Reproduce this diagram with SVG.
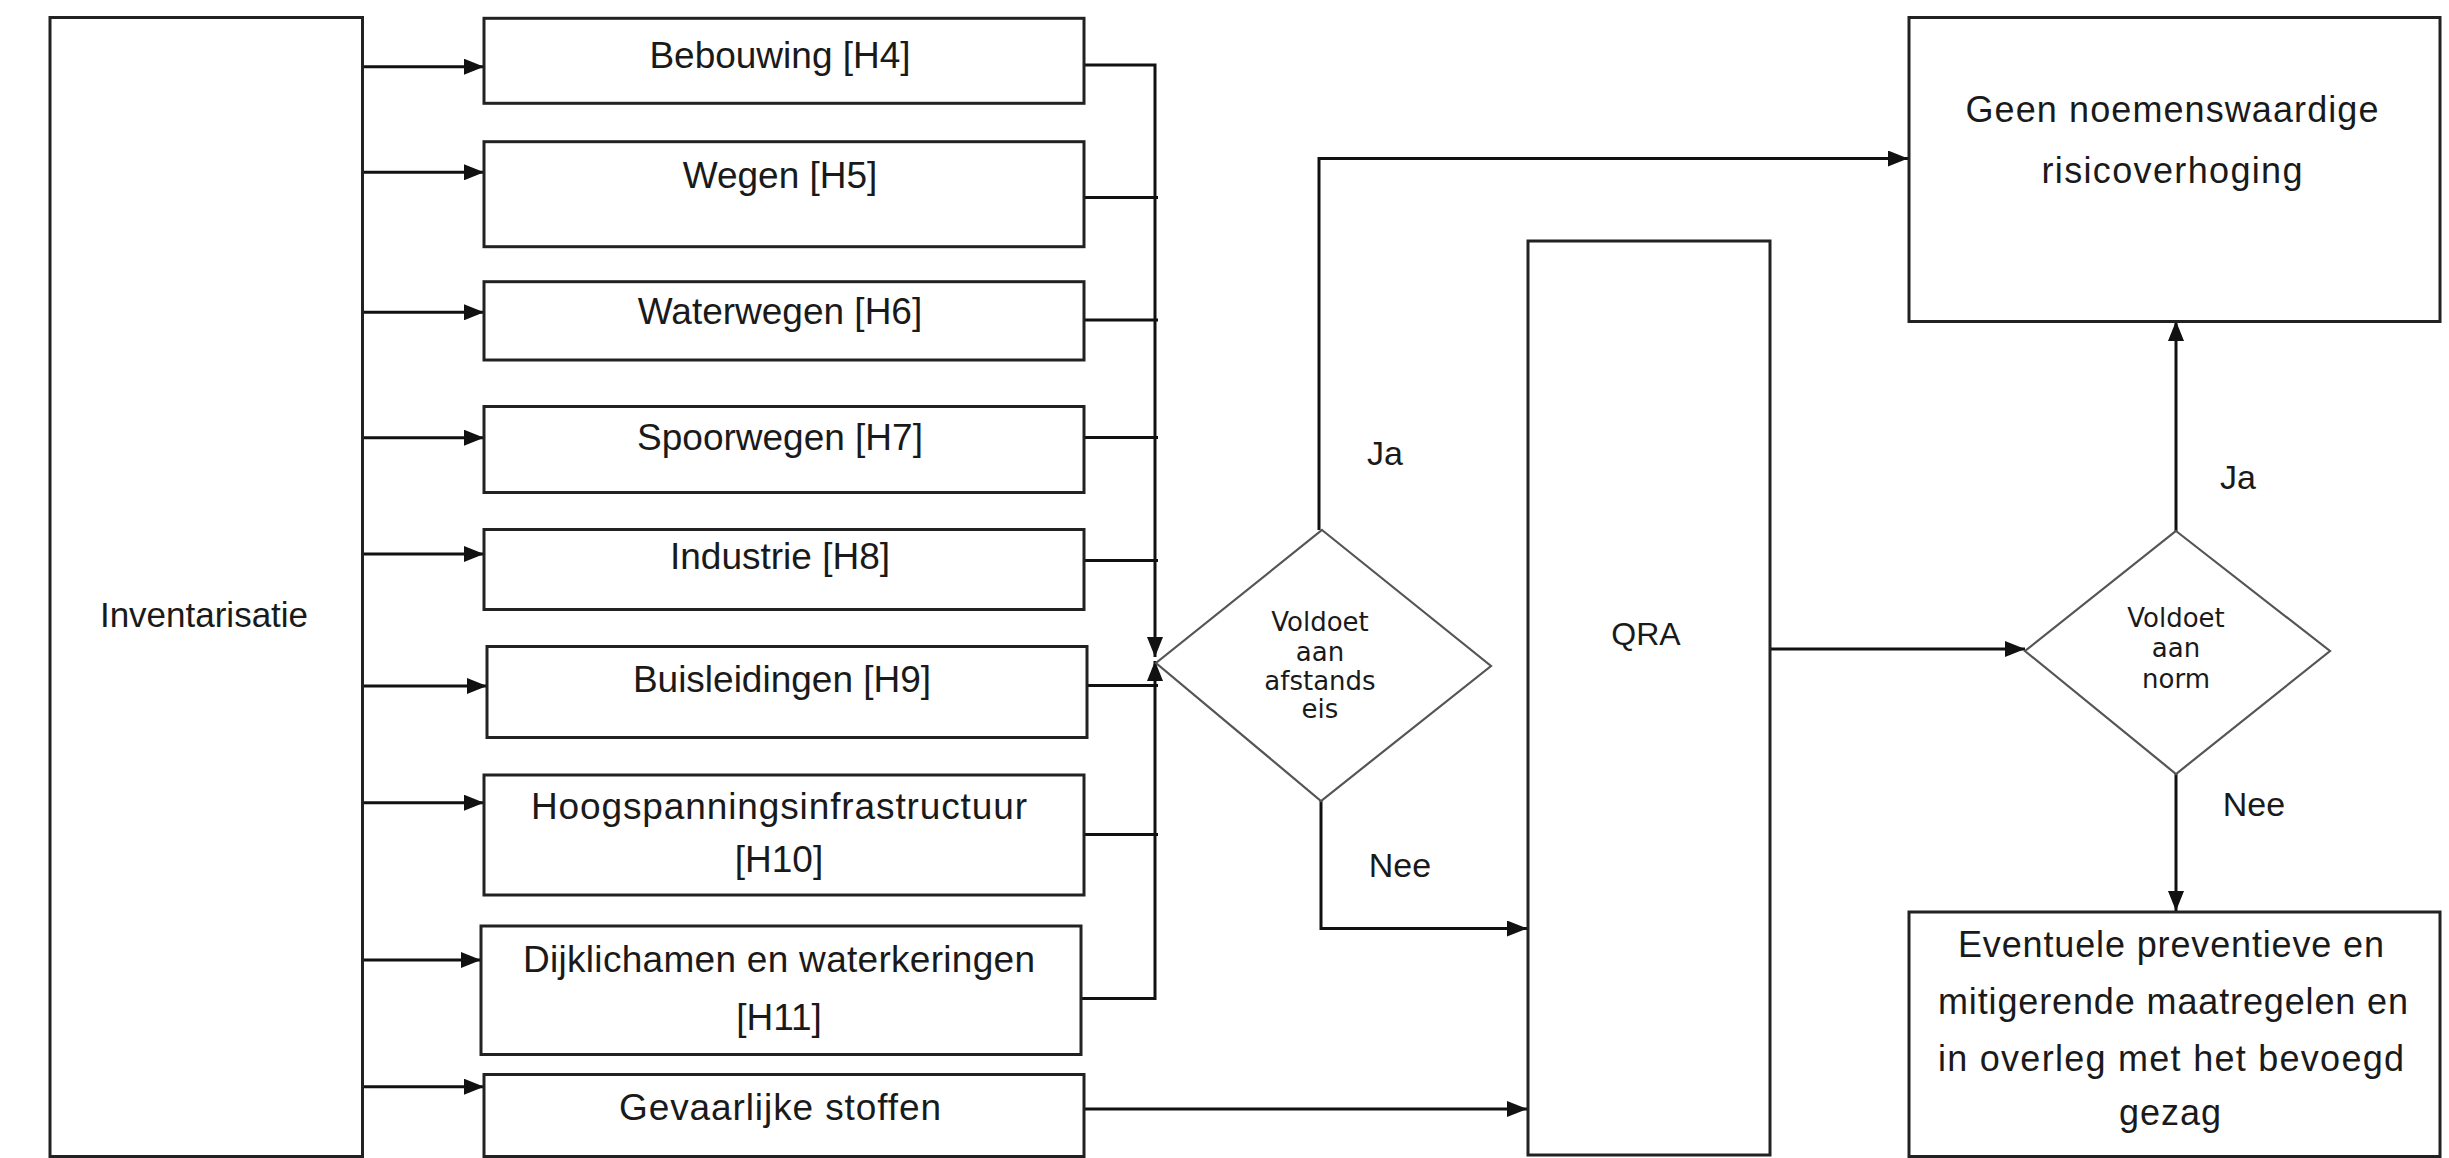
<svg xmlns="http://www.w3.org/2000/svg" width="2449" height="1158" viewBox="0 0 2449 1158">
<style>
.box{fill:#fff;stroke:#222;stroke-width:3}
.dia{fill:#fff;stroke:#555;stroke-width:2.2}
.t{font-family:"Liberation Sans",Arial,sans-serif;fill:#1a1a1a;text-anchor:middle}
.m{font-size:37px}
.d{font-family:"DejaVu Sans",Verdana,sans-serif;font-size:26px;fill:#1a1a1a;text-anchor:middle}
.c{fill:none;stroke:#111;stroke-width:3}
</style>
<defs>
<marker id="ah" markerUnits="userSpaceOnUse" markerWidth="20" markerHeight="16" refX="20" refY="8" orient="auto">
<path d="M0,0 L20,8 L0,16 z" fill="#111"/>
</marker>
</defs>
<rect width="2449" height="1158" fill="#fff"/>

<g id="connectors">
<path class="c" d="M362,66.7 H484" marker-end="url(#ah)"/>
<path class="c" d="M362,172.3 H484" marker-end="url(#ah)"/>
<path class="c" d="M362,312.3 H484" marker-end="url(#ah)"/>
<path class="c" d="M362,437.7 H484" marker-end="url(#ah)"/>
<path class="c" d="M362,554 H484" marker-end="url(#ah)"/>
<path class="c" d="M362,686 H487" marker-end="url(#ah)"/>
<path class="c" d="M362,802.7 H484" marker-end="url(#ah)"/>
<path class="c" d="M362,960 H481" marker-end="url(#ah)"/>
<path class="c" d="M362,1086.7 H484" marker-end="url(#ah)"/>
<path class="c" d="M1084,65 H1155 V657" marker-end="url(#ah)"/>
<path class="c" d="M1081,998.5 H1155 V661" marker-end="url(#ah)"/>
<path class="c" d="M1084,197.5 H1158"/>
<path class="c" d="M1084,320 H1158"/>
<path class="c" d="M1084,437.5 H1158"/>
<path class="c" d="M1084,560.5 H1158"/>
<path class="c" d="M1087,685.5 H1158"/>
<path class="c" d="M1084,834.5 H1158"/>
<path class="c" d="M1319,530 V158.5 H1908" marker-end="url(#ah)"/>
<path class="c" d="M1321,801 V928.5 H1527" marker-end="url(#ah)"/>
<path class="c" d="M1084,1109 H1527" marker-end="url(#ah)"/>
<path class="c" d="M1770,649 H2025" marker-end="url(#ah)"/>
<path class="c" d="M2176,531 V321" marker-end="url(#ah)"/>
<path class="c" d="M2176,774 V911" marker-end="url(#ah)"/>
</g>

<g id="inventarisatie">
<rect class="box" x="50" y="17.5" width="312.5" height="1139"/>
<text class="t" x="204" y="627" font-size="35">Inventarisatie</text>
</g>
<g id="bebouwing">
<rect class="box" x="484" y="18.3" width="600" height="85"/>
<text class="t m" x="780" y="68.3">Bebouwing [H4]</text>
</g>
<g id="wegen">
<rect class="box" x="484" y="141.7" width="600" height="105"/>
<text class="t m" x="780" y="188.3">Wegen [H5]</text>
</g>
<g id="waterwegen">
<rect class="box" x="484" y="281.7" width="600" height="78.3"/>
<text class="t m" x="780" y="324">Waterwegen [H6]</text>
</g>
<g id="spoorwegen">
<rect class="box" x="484" y="406.5" width="600" height="86"/>
<text class="t m" x="780" y="450">Spoorwegen [H7]</text>
</g>
<g id="industrie">
<rect class="box" x="484" y="529.5" width="600" height="80"/>
<text class="t m" x="780" y="569.3">Industrie [H8]</text>
</g>
<g id="buisleidingen">
<rect class="box" x="487" y="646.5" width="600" height="91"/>
<text class="t m" x="782" y="691.7">Buisleidingen [H9]</text>
</g>
<g id="hoogspanning">
<rect class="box" x="484" y="775" width="600" height="120"/>
<text class="t m" x="779" y="819.3" textLength="496" lengthAdjust="spacing">Hoogspanningsinfrastructuur</text>
<text class="t m" x="779" y="871.7">[H10]</text>
</g>
<g id="dijklichamen">
<rect class="box" x="481" y="926" width="600" height="128.5"/>
<text class="t m" x="779" y="971.7" textLength="512" lengthAdjust="spacing">Dijklichamen en waterkeringen</text>
<text class="t m" x="779" y="1030">[H11]</text>
</g>
<g id="gevaarlijke">
<rect class="box" x="484" y="1074.5" width="600" height="82"/>
<text class="t m" x="780" y="1120" textLength="322" lengthAdjust="spacing">Gevaarlijke stoffen</text>
</g>

<g id="afstandseis">
<polygon class="dia" points="1322,530 1491,666 1321,801 1156,663"/>
<text class="d" x="1320" y="631">Voldoet</text>
<text class="d" x="1320" y="661">aan</text>
<text class="d" x="1320" y="690">afstands</text>
<text class="d" x="1320" y="718">eis</text>
</g>
<g id="label-ja1"><text class="t" x="1385" y="465" font-size="34">Ja</text></g>
<g id="label-nee1"><text class="t" x="1400" y="877" font-size="34">Nee</text></g>

<g id="qra">
<rect class="box" x="1528" y="241" width="242" height="914"/>
<text class="t" x="1646" y="645" font-size="32">QRA</text>
</g>

<g id="norm">
<polygon class="dia" points="2176,531 2330,651 2176,774 2025,651"/>
<text class="d" x="2176" y="627">Voldoet</text>
<text class="d" x="2176" y="657">aan</text>
<text class="d" x="2176" y="688">norm</text>
</g>
<g id="label-ja2"><text class="t" x="2238" y="489" font-size="34">Ja</text></g>
<g id="label-nee2"><text class="t" x="2254" y="816" font-size="34">Nee</text></g>

<g id="geen">
<rect class="box" x="1909" y="17.5" width="531" height="304"/>
<text class="t" x="2172" y="122" font-size="36" textLength="413" lengthAdjust="spacing">Geen noemenswaardige</text>
<text class="t" x="2172" y="183" font-size="36" textLength="261" lengthAdjust="spacing">risicoverhoging</text>
</g>

<g id="eventuele">
<rect class="box" x="1909" y="912" width="531" height="244.5"/>
<text class="t" x="2171" y="957" font-size="36" textLength="426" lengthAdjust="spacing">Eventuele preventieve en</text>
<text class="t" x="2173" y="1014" font-size="36" textLength="470" lengthAdjust="spacing">mitigerende maatregelen en</text>
<text class="t" x="2171" y="1071" font-size="36" textLength="466" lengthAdjust="spacing">in overleg met het bevoegd</text>
<text class="t" x="2170" y="1125" font-size="36" textLength="102" lengthAdjust="spacing">gezag</text>
</g>
</svg>
